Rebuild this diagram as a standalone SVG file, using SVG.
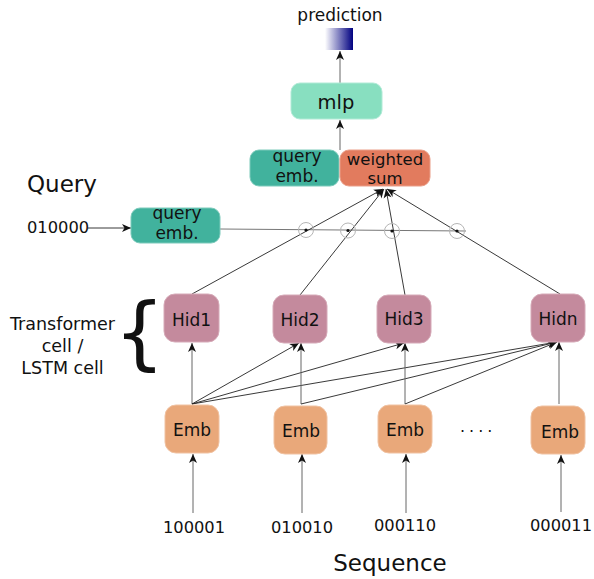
<svg xmlns="http://www.w3.org/2000/svg" width="594" height="579" viewBox="0 0 594 579">
  <defs>
    <style>
      text { font-family: "DejaVu Sans", "Liberation Sans", sans-serif; fill: #111; }
      .lbl { font-size: 17px; text-anchor: middle; }
      .side { font-size: 17.5px; text-anchor: middle; }
      .big { font-size: 17px; text-anchor: middle; }
      .num { font-size: 16.3px; text-anchor: middle; }
      .hid { fill: #c48a9d; stroke: #d6aab8; stroke-width: 1; }
      .emb { fill: #e9a87a; stroke: #f0c2a2; stroke-width: 1; }
      .qemb { fill: #41b29d; stroke: #7ccabb; stroke-width: 1; }
      .wsum { fill: #e27b5e; stroke: #ea9e88; stroke-width: 1; }
      .mlp { fill: #88dfc0; stroke: #b0ead6; stroke-width: 1; }
      .edge { stroke: #222; stroke-width: 0.9; fill: none; marker-end: url(#arrow); }
      .feed { stroke: #666; stroke-width: 1; fill: none; marker-end: url(#arrow); }
      .ring { fill: none; stroke: #b5b5b5; stroke-width: 1; }
      .dot { fill: #111; }
    </style>
    <marker id="arrow" viewBox="-10 -5 11 10" refX="0" refY="0" markerWidth="11" markerHeight="10" markerUnits="userSpaceOnUse" orient="auto">
      <path d="M0,0 L-9,-4 L-6.5,0 L-9,4 Z" fill="#111"/>
    </marker>
    <linearGradient id="predFill" x1="0" y1="0" x2="1" y2="0">
      <stop offset="0" stop-color="#ffffff"/>
      <stop offset="1" stop-color="#000080"/>
    </linearGradient>
  </defs>

  <!-- side labels -->
  <text x="27" y="192" style="font-size:23px">Query</text>
  <text x="27" y="233" style="font-size:16.3px">010000</text>
  <text x="62.5" y="330" class="side">Transformer</text>
  <text x="62.5" y="352" class="side">cell /</text>
  <text x="62.5" y="374" class="side">LSTM cell</text>
  <text x="114" y="360" style="font-size:80px">{</text>
  <text x="390" y="571" style="font-size:23px;text-anchor:middle">Sequence</text>
  <text x="340" y="21" class="lbl">prediction</text>

  <!-- connectors -->
  <g id="connectors">
    <!-- query path -->
    <line class="edge" x1="88" y1="228" x2="131" y2="228"/>
    <line x1="220" y1="229" x2="466" y2="231" stroke="#777" stroke-width="1"/>
    <!-- hidden states to weighted sum -->
    <line class="edge" x1="192" y1="294" x2="383" y2="189"/>
    <line class="edge" x1="300" y1="295" x2="384" y2="189"/>
    <line class="edge" x1="405" y1="295" x2="386" y2="189"/>
    <line class="edge" x1="560" y1="294" x2="387" y2="189"/>
    <!-- attention points -->
    <circle class="ring" cx="306" cy="230" r="7.5"/>
    <circle class="ring" cx="348" cy="230.5" r="7.5"/>
    <circle class="ring" cx="392" cy="231" r="7.5"/>
    <circle class="ring" cx="457" cy="231" r="7.5"/>
    <circle class="dot" cx="306" cy="230" r="1.6"/>
    <circle class="dot" cx="348" cy="230.5" r="1.6"/>
    <circle class="dot" cx="392" cy="231" r="1.6"/>
    <circle class="dot" cx="457" cy="231" r="1.6"/>
    <!-- head -->
    <line class="feed" x1="340" y1="150" x2="340" y2="120"/>
    <line class="feed" x1="340" y1="83" x2="340" y2="51"/>
    <!-- embeddings to hidden states -->
    <line class="feed" x1="192" y1="404" x2="192" y2="343"/>
    <line class="edge" x1="192" y1="404" x2="299" y2="343"/>
    <line class="edge" x1="192" y1="404" x2="404" y2="343"/>
    <line class="edge" x1="192" y1="404" x2="557" y2="342"/>
    <line class="feed" x1="301" y1="404" x2="301" y2="343"/>
    <line class="edge" x1="301" y1="404" x2="557" y2="342"/>
    <line class="feed" x1="405" y1="404" x2="405" y2="343"/>
    <line class="edge" x1="405" y1="404" x2="557" y2="342"/>
    <line class="feed" x1="559" y1="404" x2="559" y2="342"/>
    <!-- inputs -->
    <line class="feed" x1="193" y1="513" x2="193" y2="454"/>
    <line class="feed" x1="302" y1="513" x2="302" y2="454"/>
    <line class="feed" x1="406" y1="513" x2="406" y2="454"/>
    <line class="feed" x1="561" y1="512" x2="561" y2="455"/>
  </g>

  <!-- output -->
  <g id="prediction">
    <rect x="325" y="28" width="28" height="22" fill="url(#predFill)"/>
  </g>
  <g id="mlp">
    <rect class="mlp" x="291" y="83" width="91" height="36" rx="9"/>
    <text x="336" y="109" style="font-size:19.5px;text-anchor:middle">mlp</text>
  </g>
  <g id="query-emb-top">
    <rect class="qemb" x="250" y="150" width="89" height="36" rx="9"/>
    <text x="297" y="162" class="lbl">query</text>
    <text x="297" y="182" class="lbl">emb.</text>
  </g>
  <g id="weighted-sum">
    <rect class="wsum" x="340" y="150" width="90" height="36" rx="9"/>
    <text x="385" y="165" style="font-size:16.5px;text-anchor:middle">weighted</text>
    <text x="385" y="183.5" style="font-size:16.5px;text-anchor:middle">sum</text>
  </g>
  <g id="query-emb">
    <rect class="qemb" x="131" y="208" width="89" height="35" rx="9"/>
    <text x="177" y="219" class="lbl">query</text>
    <text x="177" y="239" class="lbl">emb.</text>
  </g>

  <!-- hidden cells -->
  <g id="hid1">
    <rect class="hid" x="164" y="294" width="55" height="48" rx="11"/>
    <text x="191.5" y="326" class="lbl">Hid1</text>
  </g>
  <g id="hid2">
    <rect class="hid" x="273" y="295" width="54" height="48" rx="11"/>
    <text x="300" y="326" class="lbl">Hid2</text>
  </g>
  <g id="hid3">
    <rect class="hid" x="377" y="295" width="54" height="48" rx="11"/>
    <text x="404" y="325" class="lbl">Hid3</text>
  </g>
  <g id="hidn">
    <rect class="hid" x="531" y="294" width="54" height="48" rx="11"/>
    <text x="558" y="325" class="lbl">Hidn</text>
  </g>

  <!-- embeddings -->
  <g id="emb1">
    <rect class="emb" x="165" y="405" width="54" height="48" rx="11"/>
    <text x="192" y="436" class="big">Emb</text>
  </g>
  <g id="emb2">
    <rect class="emb" x="274" y="406" width="53" height="48" rx="11"/>
    <text x="301" y="437" class="big">Emb</text>
  </g>
  <g id="emb3">
    <rect class="emb" x="378" y="405" width="54" height="48" rx="11"/>
    <text x="405" y="436" class="big">Emb</text>
  </g>
  <text x="460" y="432" style="font-size:16px;letter-spacing:4px">....</text>
  <g id="embn">
    <rect class="emb" x="531" y="406" width="54" height="48" rx="11"/>
    <text x="560" y="438" class="big">Emb</text>
  </g>

  <!-- input codes -->
  <text x="194" y="533" class="num">100001</text>
  <text x="302" y="533" class="num">010010</text>
  <text x="405" y="531" class="num">000110</text>
  <text x="561" y="531" class="num">000011</text>
</svg>
